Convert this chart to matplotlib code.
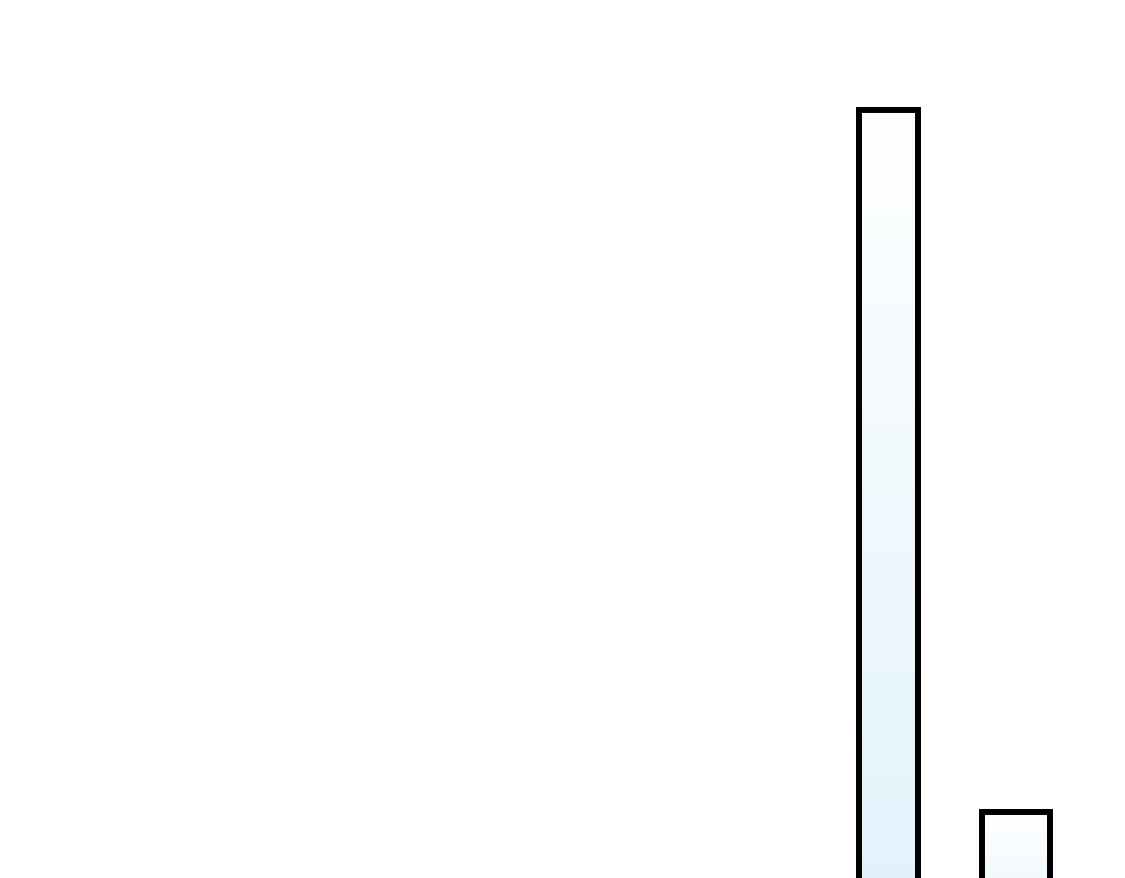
import numpy as np
import matplotlib
matplotlib.use("Agg")
import matplotlib.pyplot as plt
from matplotlib.colors import LinearSegmentedColormap

# data (bars are cut off at the bottom)
categories = ["A", "B"]
values = [100, 20]
bar_widths = [0.463, 0.533]

# gradient fill: white at the top of a bar, light blue at its base
cmap = LinearSegmentedColormap.from_list("fade", ["#ffffff", "#def1fb"])

fig = plt.figure(figsize=(11.25, 8.79), dpi=100)
ax = fig.add_axes([0, 0, 1, 1])

x = np.arange(len(categories))
bars = ax.bar(x, values, width=bar_widths, facecolor="none",
              edgecolor="black", linewidth=4.3, zorder=3)

for b in bars:
    b.set_joinstyle("miter")
    grad = np.linspace(0, 1, 256).reshape(-1, 1)
    im = ax.imshow(grad, cmap=cmap, aspect="auto", origin="upper",
                   extent=[b.get_x(), b.get_x() + b.get_width(), 0, b.get_height()],
                   zorder=2)
    im.set_clip_path(b)

ax.set_xlim(-6.969, 1.855)
ax.set_ylim(12.48, 112.65)
ax.axis("off")

fig.savefig("out.png", dpi=100, facecolor="white")
plt.close()
